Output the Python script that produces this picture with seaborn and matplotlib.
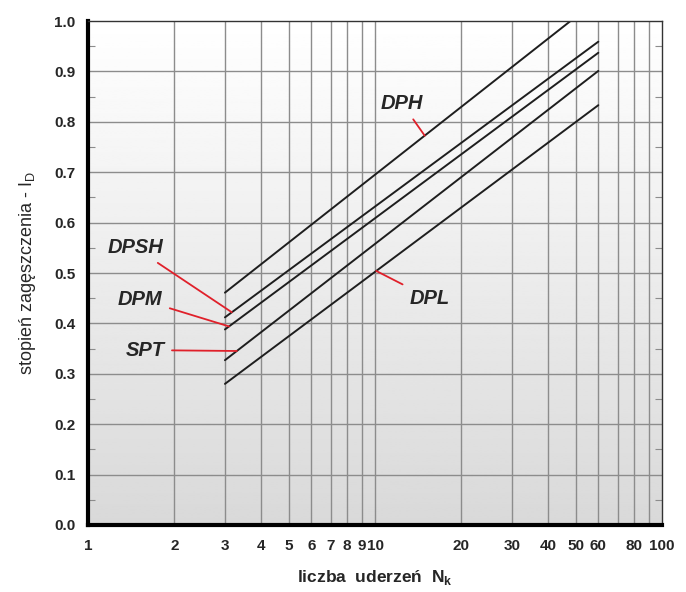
import numpy as np
import pandas as pd
import seaborn as sns
import matplotlib
matplotlib.use("Agg")
import matplotlib.pyplot as plt
from matplotlib.ticker import FixedLocator, NullFormatter, MultipleLocator

# Data (line endpoints, log x)
series = ["DPH", "DPSH", "DPM", "SPT", "DPL"]
n_start = [3, 3, 3, 3, 3]
n_end = [48, 60, 60, 60, 60]
id_start = [0.461, 0.412, 0.388, 0.327, 0.280]
id_end = [1.000, 0.959, 0.937, 0.901, 0.833]

# label text position and where its leader touches the line (N value)
label_xy = {"DPH": (12.4, 0.837), "DPSH": (1.46, 0.550), "DPM": (1.52, 0.448),
            "SPT": (1.58, 0.347), "DPL": (15.5, 0.450)}
leader_n = {"DPH": 14.9, "DPSH": 3.17, "DPM": 3.10, "SPT": 3.30, "DPL": 10.1}

x_ticks = [1, 2, 3, 4, 5, 6, 7, 8, 9, 10, 20, 30, 40, 50, 60, 80, 100]
x_grid = [2, 3, 4, 5, 6, 7, 8, 9, 10, 20, 30, 40, 50, 60, 70, 80, 90]

rows = []
for name, x0, x1, y0, y1 in zip(series, n_start, n_end, id_start, id_end):
    rows.append({"seria": name, "N": x0, "ID": y0})
    rows.append({"seria": name, "N": x1, "ID": y1})
df = pd.DataFrame(rows)

sns.set_style("white")
plt.rcParams["font.family"] = ["Liberation Sans", "DejaVu Sans"]

fig = plt.figure(figsize=(6.86, 5.92), dpi=100)
ax = fig.add_axes([0.1283, 0.1132, 0.8367, 0.8513])

# grey gradient background
grad = np.linspace(0.85, 1.0, 256)[:, None]
ax.imshow(grad, extent=[0, 1, 0, 1], transform=ax.transAxes, aspect="auto",
          cmap="gray", vmin=0, vmax=1, origin="lower", zorder=0)

sns.lineplot(data=df, x="N", y="ID", units="seria", estimator=None,
             color="#1e1e1e", linewidth=1.4, ax=ax, zorder=3)

ax.set_xscale("log")
ax.set_xlim(1, 100)
ax.set_ylim(0, 1.0)

ax.xaxis.set_major_locator(FixedLocator(x_ticks))
ax.set_xticklabels([str(v) for v in x_ticks])
ax.xaxis.set_minor_locator(FixedLocator(x_grid))
ax.xaxis.set_minor_formatter(NullFormatter())
ax.yaxis.set_major_locator(MultipleLocator(0.1))
ax.yaxis.set_minor_locator(MultipleLocator(0.05))
ax.set_yticklabels([f"{v:.1f}" for v in ax.get_yticks()])

for v in x_grid:
    ax.axvline(v, color="#8c8c8c", linewidth=1.0, zorder=1)
for v in np.arange(0.1, 1.0, 0.1):
    ax.axhline(v, color="#8c8c8c", linewidth=1.0, zorder=1)

ax.tick_params(axis="x", which="both", length=0, pad=10, labelsize=11)
ax.tick_params(axis="y", which="major", length=0, pad=9, labelsize=11)
ax.tick_params(axis="y", which="minor", direction="in", length=5, width=0.8,
               color="#8c8c8c", left=True, right=True)
for lab in ax.get_xticklabels() + ax.get_yticklabels():
    lab.set_fontweight("bold")

for side in ["left", "bottom"]:
    ax.spines[side].set_linewidth(3)
    ax.spines[side].set_color("black")
for side in ["top", "right"]:
    ax.spines[side].set_linewidth(1)
    ax.spines[side].set_color("#333333")
for sp in ax.spines.values():
    sp.set_zorder(5)

# line labels with red leaders
for name, x0, x1, y0, y1 in zip(series, n_start, n_end, id_start, id_end):
    xn = leader_n[name]
    yn = np.interp(np.log10(xn), [np.log10(x0), np.log10(x1)], [y0, y1])
    ax.annotate(name, xy=(xn, yn), xytext=label_xy[name],
                fontsize=14.5, fontweight="bold", fontstyle="italic",
                ha="center", va="center", zorder=6,
                arrowprops=dict(arrowstyle="-", color="#e0202a", lw=1.3,
                                shrinkA=3, shrinkB=0))

ax.set_xlabel("liczba  uderzeń  N$_\\mathregular{k}$", fontsize=12.5,
              fontweight="semibold", labelpad=11)
ax.set_ylabel("stopień zagęszczenia - I$_\\mathregular{D}$", fontsize=13,
              labelpad=12)

fig.savefig("out.png", dpi=100)
